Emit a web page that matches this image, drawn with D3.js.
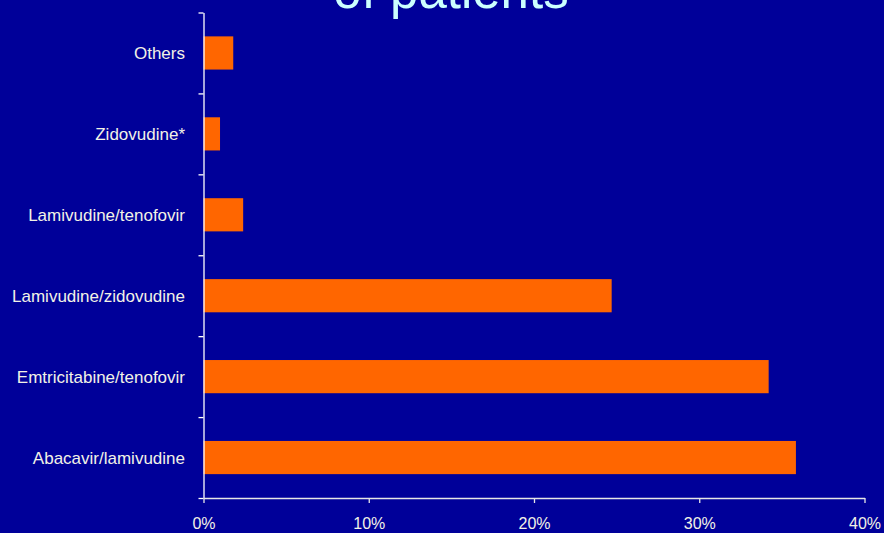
<!DOCTYPE html>
<html>
<head>
<meta charset="utf-8">
<script src="https://cdn.jsdelivr.net/npm/d3@7"></script>
<style>
  html, body { margin: 0; padding: 0; background: #000099; }
  svg { display: block; font-family: "Liberation Sans", Arial, sans-serif; }
</style>
</head>
<body>
<svg id="chart" width="884" height="533"></svg>
<script>
// Share of patients by NRTI backbone (top to bottom)
const categories = [
  "Others",
  "Zidovudine*",
  "Lamivudine/tenofovir",
  "Lamivudine/zidovudine",
  "Emtricitabine/tenofovir",
  "Abacavir/lamivudine"
];
const percentages = [1.8, 1.0, 2.4, 24.7, 34.2, 35.85];
const xTicks = [0, 10, 20, 30, 40];
const titleText = "of patients";

const svg = d3.select("#chart");
const plotLeft = 203.5, plotRight = 864.5, plotTop = 12.5, plotBottom = 498;

const data = categories.map((c, i) => ({ cat: c, value: percentages[i] }));

const x = d3.scaleLinear().domain([0, 40]).range([plotLeft, plotRight]);
const y = d3.scaleBand().domain(categories).range([plotTop, plotBottom])
  .paddingInner(0.59).paddingOuter(0.295);
// boundaries between category bands, for the y-axis tick marks
const yEdge = d3.scaleLinear().domain([0, categories.length]).range([plotTop, plotBottom]);

// title (partly above the visible area)
svg.append("text")
  .attr("x", 451)
  .attr("y", 7.5)
  .attr("text-anchor", "middle")
  .attr("fill", "#CCFFFF")
  .style("font-size", "51px")
  .text(titleText);

// bars
svg.append("g").selectAll("rect")
  .data(data)
  .join("rect")
  .attr("x", x(0))
  .attr("y", d => y(d.cat))
  .attr("width", d => x(d.value) - x(0))
  .attr("height", y.bandwidth())
  .attr("fill", "#FF6600");

// y axis line with ticks at band boundaries
const yAxis = svg.append("g")
  .attr("transform", `translate(${plotLeft},0)`)
  .call(d3.axisLeft(yEdge).tickValues(d3.range(0, categories.length + 1))
    .tickFormat("").tickSize(5).tickSizeOuter(0));
yAxis.selectAll("path, line").attr("stroke", "#FFFFFF").attr("stroke-width", 1.3);

// category labels
const yLabels = svg.append("g")
  .attr("transform", `translate(${plotLeft},0)`)
  .call(d3.axisLeft(y).tickSize(0).tickPadding(18.5));
yLabels.select(".domain").remove();
yLabels.selectAll("text")
  .attr("fill", "#F2F2E6")
  .attr("dy", "0.36em")
  .style("font-size", "17px")
  .style("font-family", "'Liberation Sans', Arial, sans-serif");

// x axis
const xAxis = svg.append("g")
  .attr("transform", `translate(0,${plotBottom})`)
  .call(d3.axisBottom(x).tickValues(xTicks).tickFormat(d => d + "%")
    .tickSize(5).tickSizeOuter(0).tickPadding(15));
xAxis.selectAll("path, line").attr("stroke", "#E6E6E6").attr("stroke-width", 1.3);
xAxis.selectAll("text")
  .attr("fill", "#F2F2E6")
  .style("font-size", "16px")
  .style("font-family", "'Liberation Sans', Arial, sans-serif");
</script>
</body>
</html>
